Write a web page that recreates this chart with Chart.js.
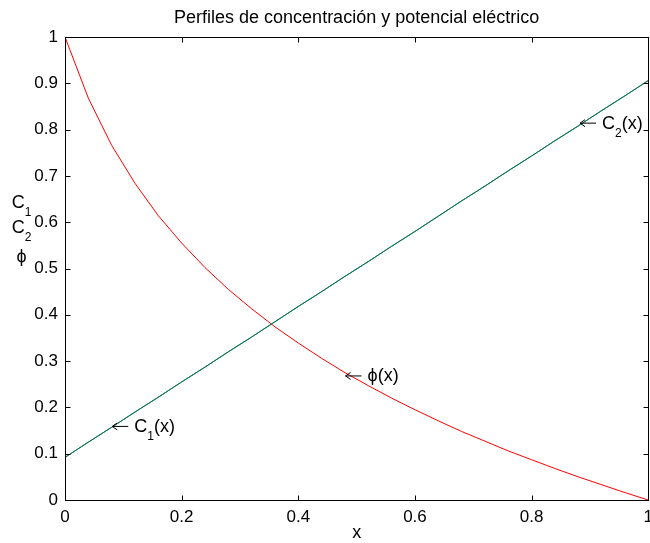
<!DOCTYPE html>
<html><head><meta charset="utf-8">
<script src="https://cdn.jsdelivr.net/npm/chart.js@4/dist/chart.umd.min.js"></script>
<style>html,body{margin:0;padding:0;overflow:hidden;background:#fff;width:650px;height:543px}canvas{display:block}</style>
</head><body>
<canvas id="c" width="660" height="543" style="width:660px;height:543px"></canvas>
<script>
const xValues=[0,0.04,0.08,0.12,0.16,0.20,0.24,0.28,0.32,0.36,0.40,0.44,0.48,0.52,0.56,0.60,0.64,0.68,0.72,0.76,0.80,0.84,0.88,0.92,0.96,1.00];
const phiValues=[1.000,0.868,0.766,0.684,0.614,0.555,0.502,0.455,0.413,0.374,0.339,0.306,0.275,0.247,0.220,0.195,0.171,0.148,0.127,0.106,0.087,0.068,0.050,0.033,0.016,0.000];
const c1Values=[0.092,0.125,0.157,0.190,0.222,0.255,0.287,0.320,0.352,0.385,0.418,0.450,0.483,0.515,0.548,0.580,0.613,0.646,0.678,0.711,0.743,0.776,0.808,0.841,0.873,0.906];
const c2Values=[0.092,0.125,0.157,0.190,0.222,0.255,0.287,0.320,0.352,0.385,0.418,0.450,0.483,0.515,0.548,0.580,0.613,0.646,0.678,0.711,0.743,0.776,0.808,0.841,0.873,0.906];
const xTicks=[0,0.2,0.4,0.6,0.8,1];
const xTickLabels=['0','0.2','0.4','0.6','0.8','1'];
const yTicks=[0,0.1,0.2,0.3,0.4,0.5,0.6,0.7,0.8,0.9,1];
const yTickLabels=['0','0.1','0.2','0.3','0.4','0.5','0.6','0.7','0.8','0.9','1'];
const titleText='Perfiles de concentración y potencial eléctrico';
const xLabelText='x';
const yLabelLines=[{base:'C',sub:'1'},{base:'C',sub:'2'},{base:'ϕ',sub:''}];
const annotations=[
  {base:'C',sub:'1',rest:'(x)',x:0.081,y:0.160},
  {base:'ϕ',sub:'',rest:'(x)',x:0.481,y:0.269},
  {base:'C',sub:'2',rest:'(x)',x:0.883,y:0.815}
];

const FONT='"Liberation Sans", Arial, Helvetica, "DejaVu Sans", sans-serif';
const GREEN='rgb(8,118,78)';
const toPts=(ys)=>xValues.map((x,i)=>({x:x,y:ys[i]}));

function drawRich(ctx, item, x, y, align){
  // y is baseline
  ctx.textBaseline='alphabetic';
  ctx.textAlign='left';
  ctx.font='18px '+FONT;
  const wb=ctx.measureText(item.base).width;
  ctx.font='12px '+FONT;
  const ws=item.sub?ctx.measureText(item.sub).width:0;
  ctx.font='18px '+FONT;
  const wr=item.rest?ctx.measureText(item.rest).width:0;
  const total=wb+ws+wr;
  let sx = align==='center' ? x-total/2 : x;
  ctx.font='18px '+FONT;
  ctx.fillText(item.base,sx,y);
  if(item.sub){ctx.font='12px '+FONT;ctx.fillText(item.sub,sx+wb,y+8);}
  if(item.rest){ctx.font='18px '+FONT;ctx.fillText(item.rest,sx+wb+ws,y);}
}

const decor={
  id:'decor',
  afterDraw(chart){
    const ctx=chart.ctx, ca=chart.chartArea, sx=chart.scales.x, sy=chart.scales.y;
    ctx.save();
    ctx.strokeStyle='#000';ctx.lineWidth=1;
    const L=Math.round(ca.left)+0.5, T=Math.round(ca.top)+0.5, R=Math.round(ca.right)+0.5, B=Math.round(ca.bottom)+0.5;
    ctx.strokeRect(L,T,R-L,B-T);
    ctx.beginPath();
    xTicks.forEach(v=>{const px=Math.round(sx.getPixelForValue(v))+0.5;ctx.moveTo(px,B);ctx.lineTo(px,B-5);ctx.moveTo(px,T);ctx.lineTo(px,T+5);});
    yTicks.forEach(v=>{const py=Math.round(sy.getPixelForValue(v))+0.5;ctx.moveTo(L,py);ctx.lineTo(L+5,py);ctx.moveTo(R,py);ctx.lineTo(R-5,py);});
    ctx.stroke();
    ctx.fillStyle='#000';
    // title
    ctx.font='18px '+FONT;ctx.textAlign='center';ctx.textBaseline='alphabetic';
    ctx.fillText(titleText,(ca.left+ca.right)/2,23);
    // x label
    ctx.fillText(xLabelText,(ca.left+ca.right)/2,538);
    // y label
    const baselines=[208,233,262];
    yLabelLines.forEach((it,i)=>drawRich(ctx,it,21.5,baselines[i],'center'));
    // annotations
    annotations.forEach(a=>{
      const px=sx.getPixelForValue(a.x), py=sy.getPixelForValue(a.y);
      ctx.beginPath();
      ctx.moveTo(px,py+0.5);ctx.lineTo(px+16,py+0.5);
      ctx.moveTo(px+5,py-3);ctx.lineTo(px,py+0.5);ctx.lineTo(px+5,py+4);
      ctx.stroke();
      drawRich(ctx,a,px+22,py+6,'left');
    });
    ctx.restore();
  }
};

new Chart(document.getElementById('c'),{
  type:'line',
  data:{datasets:[
    {label:'C1',data:toPts(c1Values),borderColor:GREEN,borderWidth:1,pointRadius:0,tension:0,fill:false},
    {label:'C2',data:toPts(c2Values),borderColor:GREEN,borderWidth:1,pointRadius:0,tension:0,fill:false},
    {label:'phi',data:toPts(phiValues),borderColor:'rgb(255,0,0)',borderWidth:1,pointRadius:0,tension:0,fill:false}
  ]},
  options:{
    responsive:false,animation:false,
    layout:{padding:{left:0,right:8.5,top:37,bottom:0}},
    plugins:{legend:{display:false},tooltip:{enabled:false},title:{display:false}},
    scales:{
      x:{type:'linear',min:0,max:1,
        afterBuildTicks:s=>{s.ticks=xTicks.map(v=>({value:v}));},
        afterFit:s=>{s.height=43;},
        grid:{display:false,drawTicks:false},border:{display:false},
        ticks:{padding:7,color:'#000',font:{family:FONT,size:17},maxRotation:0,autoSkip:false,
          callback:(v,i)=>xTickLabels[i]}},
      y:{type:'linear',min:0,max:1,
        afterBuildTicks:s=>{s.ticks=yTicks.map(v=>({value:v}));},
        afterFit:s=>{s.width=65;},
        grid:{display:false,drawTicks:false},border:{display:false},
        ticks:{padding:7,color:'#000',font:{family:FONT,size:17},autoSkip:false,
          callback:(v,i)=>yTickLabels[i]}}
    }
  },
  plugins:[decor]
});
</script>
</body></html>
